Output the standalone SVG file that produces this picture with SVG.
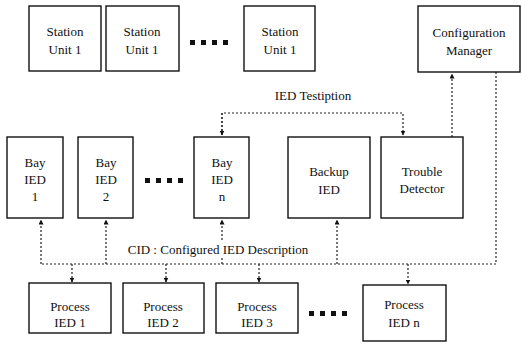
<svg xmlns="http://www.w3.org/2000/svg" width="522" height="345" viewBox="0 0 522 345">
<style>
.box{fill:#fff;stroke:#111;stroke-width:1.4}
.t{font-family:"Liberation Serif","Times New Roman",serif;font-size:13px;fill:#111;text-anchor:middle}
.c{fill:none;stroke:#222;stroke-width:1.2;stroke-dasharray:2,2}
.dot{fill:#111}
</style>
<defs>
<marker id="ah" viewBox="0 0 10 10" refX="9" refY="5" markerWidth="5" markerHeight="5" orient="auto" markerUnits="userSpaceOnUse">
<path d="M0,0 L10,5 L0,10 z" fill="#111"/>
</marker>
</defs>
<rect width="522" height="345" fill="#fff"/>

<g id="connectors">
<polyline class="c" points="222,135 222,113 403,113 403,135" marker-end="url(#ah)"/>
<line class="c" x1="222" y1="113" x2="222" y2="135" marker-end="url(#ah)"/>
<line class="c" x1="452" y1="137" x2="452" y2="74" marker-end="url(#ah)"/>
<polyline class="c" points="496,72 496,264 41,264"/>
<line class="c" x1="41" y1="264" x2="41" y2="220" marker-end="url(#ah)"/>
<line class="c" x1="106" y1="264" x2="106" y2="220" marker-end="url(#ah)"/>
<line class="c" x1="222" y1="264" x2="222" y2="220" marker-end="url(#ah)"/>
<line class="c" x1="337" y1="264" x2="337" y2="220" marker-end="url(#ah)"/>
<line class="c" x1="72" y1="264" x2="72" y2="282" marker-end="url(#ah)"/>
<line class="c" x1="166" y1="264" x2="166" y2="282" marker-end="url(#ah)"/>
<line class="c" x1="259" y1="264" x2="259" y2="282" marker-end="url(#ah)"/>
<line class="c" x1="408" y1="264" x2="408" y2="284" marker-end="url(#ah)"/>
<rect x="124" y="242" width="190" height="16" fill="#fff"/>
<text class="t" x="218" y="254">CID : Configured IED Description</text>
<text class="t" x="313" y="100">IED Testiption</text>
</g>

<g id="station1"><rect class="box" x="29" y="6" width="72" height="65"/><text class="t" x="65" y="36">Station</text><text class="t" x="65" y="54">Unit 1</text></g>
<g id="station2"><rect class="box" x="106" y="6" width="73" height="65"/><text class="t" x="142" y="36">Station</text><text class="t" x="142" y="54">Unit 1</text></g>
<g id="station-dots"><rect class="dot" x="190" y="40" width="5" height="5"/><rect class="dot" x="201" y="40" width="5" height="5"/><rect class="dot" x="212" y="40" width="5" height="5"/><rect class="dot" x="223" y="40" width="5" height="5"/></g>
<g id="station3"><rect class="box" x="244" y="6" width="71" height="65"/><text class="t" x="280" y="36">Station</text><text class="t" x="280" y="54">Unit 1</text></g>
<g id="config"><rect class="box" x="418" y="6" width="102" height="66"/><text class="t" x="469" y="37">Configuration</text><text class="t" x="469" y="55">Manager</text></g>

<g id="bay1"><rect class="box" x="7" y="137" width="56" height="81"/><text class="t" x="35" y="167">Bay</text><text class="t" x="35" y="184">IED</text><text class="t" x="35" y="201">1</text></g>
<g id="bay2"><rect class="box" x="78" y="137" width="55" height="81"/><text class="t" x="106" y="167">Bay</text><text class="t" x="106" y="184">IED</text><text class="t" x="106" y="201">2</text></g>
<g id="bay-dots"><rect class="dot" x="145" y="178" width="5" height="5"/><rect class="dot" x="156" y="178" width="5" height="5"/><rect class="dot" x="167" y="178" width="5" height="5"/><rect class="dot" x="178" y="178" width="5" height="5"/></g>
<g id="bayn"><rect class="box" x="194" y="137" width="55" height="81"/><text class="t" x="222" y="167">Bay</text><text class="t" x="222" y="184">IED</text><text class="t" x="222" y="201">n</text></g>
<g id="backup"><rect class="box" x="288" y="137" width="82" height="81"/><text class="t" x="329" y="176">Backup</text><text class="t" x="329" y="194">IED</text></g>
<g id="trouble"><rect class="box" x="381" y="137" width="82" height="81"/><text class="t" x="422" y="176">Trouble</text><text class="t" x="422" y="193">Detector</text></g>

<g id="proc1"><rect class="box" x="29" y="283" width="82" height="50"/><text class="t" x="70" y="311">Process</text><text class="t" x="70" y="327">IED 1</text></g>
<g id="proc2"><rect class="box" x="123" y="283" width="81" height="50"/><text class="t" x="163" y="311">Process</text><text class="t" x="163" y="327">IED 2</text></g>
<g id="proc3"><rect class="box" x="216" y="283" width="82" height="50"/><text class="t" x="257" y="311">Process</text><text class="t" x="257" y="327">IED 3</text></g>
<g id="proc-dots"><rect class="dot" x="309" y="311" width="5" height="5"/><rect class="dot" x="320" y="311" width="5" height="5"/><rect class="dot" x="331" y="311" width="5" height="5"/><rect class="dot" x="342" y="311" width="5" height="5"/></g>
<g id="procn"><rect class="box" x="363" y="285" width="83" height="56"/><text class="t" x="404" y="309">Process</text><text class="t" x="404" y="327">IED n</text></g>
</svg>
